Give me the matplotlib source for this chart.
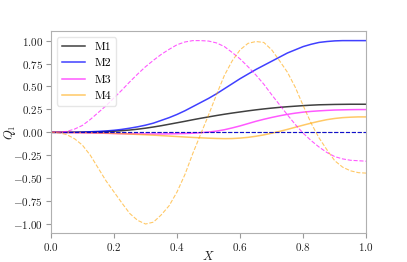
import numpy as np
import matplotlib
matplotlib.use('Agg')
import matplotlib.pyplot as plt
from matplotlib.ticker import FuncFormatter

plt.rcParams['font.family'] = 'serif'
plt.rcParams['font.serif'] = ['cmr10', 'DejaVu Serif']
plt.rcParams['mathtext.fontset'] = 'cm'
plt.rcParams['axes.unicode_minus'] = False

# sample positions along X
x = np.linspace(0, 1, 41)

# solid curves (legend entries)
m1 = [0, 0, 0, 0.001, 0.002, 0.003, 0.005, 0.008, 0.012, 0.018, 0.025, 0.034, 0.045, 0.058,
      0.072, 0.088, 0.104, 0.12, 0.137, 0.153, 0.168, 0.183, 0.197, 0.21, 0.222, 0.234, 0.245,
      0.255, 0.264, 0.272, 0.279, 0.285, 0.291, 0.296, 0.3, 0.302, 0.304, 0.305, 0.306, 0.306, 0.306]
m2 = [0, 0, 0, 0.001, 0.003, 0.006, 0.01, 0.015, 0.022, 0.032, 0.045, 0.06, 0.078, 0.1,
      0.13, 0.16, 0.195, 0.235, 0.28, 0.325, 0.37, 0.42, 0.475, 0.53, 0.585, 0.635, 0.685,
      0.73, 0.775, 0.82, 0.865, 0.9, 0.935, 0.96, 0.98, 0.99, 0.997, 1.0, 1.0, 1.0, 1.0]
m3 = [0, -0.001, -0.002, -0.004, -0.005, -0.007, -0.009, -0.011, -0.013, -0.015, -0.016, -0.017,
      -0.018, -0.018, -0.018, -0.017, -0.015, -0.013, -0.01, -0.004, 0.003, 0.013, 0.028, 0.048,
      0.07, 0.095, 0.12, 0.142, 0.162, 0.18, 0.196, 0.209, 0.22, 0.228, 0.234, 0.239, 0.243,
      0.245, 0.247, 0.248, 0.248]
m4 = [0, 0, -0.001, -0.002, -0.003, -0.005, -0.007, -0.009, -0.012, -0.015, -0.019, -0.023,
      -0.027, -0.031, -0.036, -0.041, -0.046, -0.051, -0.056, -0.06, -0.064, -0.067, -0.069,
      -0.068, -0.063, -0.055, -0.043, -0.028, -0.01, 0.01, 0.032, 0.055, 0.078, 0.1, 0.12,
      0.138, 0.151, 0.16, 0.165, 0.168, 0.168]

# dashed curves
m1_d = [0] * 41
m2_d = [0] * 41
m3_d = [0, 0, 0.01, 0.035, 0.075, 0.14, 0.215, 0.29, 0.375, 0.46, 0.55, 0.635, 0.715, 0.785,
        0.85, 0.905, 0.955, 0.985, 1.0, 1.0, 0.995, 0.975, 0.935, 0.87, 0.8, 0.715, 0.625,
        0.525, 0.41, 0.3, 0.19, 0.085, -0.01, -0.09, -0.16, -0.22, -0.265, -0.29, -0.305,
        -0.31, -0.315]
m4_d = [0, -0.005, -0.025, -0.07, -0.14, -0.25, -0.39, -0.53, -0.65, -0.77, -0.885, -0.96,
        -1.0, -0.98, -0.9, -0.8, -0.65, -0.46, -0.23, -0.02, 0.19, 0.41, 0.62, 0.78, 0.9,
        0.97, 0.99, 0.98, 0.9, 0.78, 0.655, 0.49, 0.29, 0.1, -0.06, -0.19, -0.31, -0.38,
        -0.42, -0.44, -0.445]

labels = ['M1', 'M2', 'M3', 'M4']
colors = ['k', 'b', 'magenta', 'orange']
alphas = [0.75, 0.75, 0.65, 0.6]

fig = plt.figure(figsize=(4.07, 2.62), dpi=100)
ax = fig.add_subplot(111)

for y, c, a, lab in zip([m1, m2, m3, m4], colors, alphas, labels):
    ax.plot(x, y, '-', color=c, alpha=a, lw=1.1, label=lab)
for y, c, a in zip([m1_d, m2_d, m3_d, m4_d], colors, alphas):
    ax.plot(x, y, '--', color=c, alpha=a, lw=0.8)

ax.set_xlim(0, 1)
ax.set_ylim(-1.1, 1.1)
ax.set_xticks(np.arange(0, 1.01, 0.2))
ax.set_yticks(np.arange(-1, 1.01, 0.25))
ax.xaxis.set_major_formatter(FuncFormatter(lambda v, p: r'$%.1f$' % v))
ax.yaxis.set_major_formatter(FuncFormatter(lambda v, p: r'$%.2f$' % v))
ax.tick_params(labelsize=8, color='#999999', length=3.5, pad=2, labelcolor='#222222')
for s in ax.spines.values():
    s.set_color('#b0b0b0')

ax.set_xlabel(r'$X$', fontsize=9, color='#222222')
ax.set_ylabel(r'$Q_1$', fontsize=9, color='#222222')
ax.xaxis.set_label_coords(0.5, -0.085)
ax.yaxis.set_label_coords(-0.105, 0.5)

leg = ax.legend(loc='upper left', fontsize=8.5, framealpha=0.8)
leg.get_frame().set_edgecolor('#e0e0e0')

fig.savefig('out.png', dpi=100)
